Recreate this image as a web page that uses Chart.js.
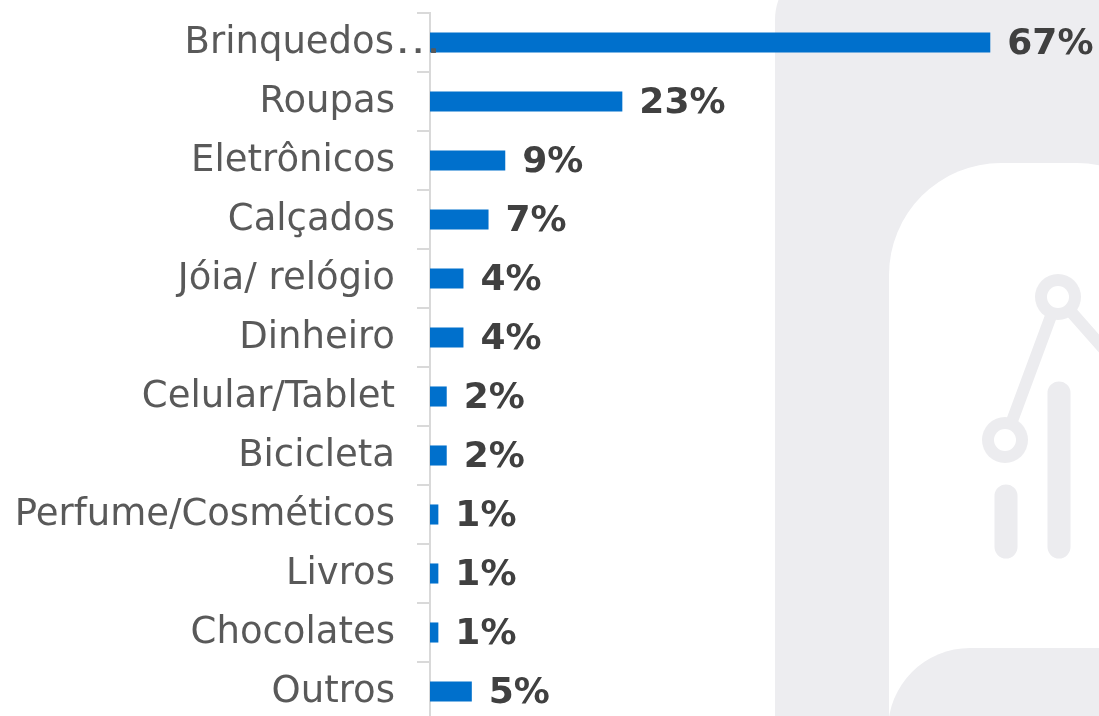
<!DOCTYPE html>
<html>
<head>
<meta charset="utf-8">
<script src="https://cdn.jsdelivr.net/npm/chart.js@4/dist/chart.umd.min.js"></script>
<style>
    html, body { margin: 0; padding: 0; background: #ffffff; overflow: hidden; }
    #wrap { position: absolute; left: 0; top: 0; width: 1099px; height: 730px; }
</style>
</head>
<body>
<div id="wrap"><canvas id="chart"></canvas></div>
<script>
// data
const categories = [
    'Brinquedos…', 'Roupas', 'Eletrônicos', 'Calçados', 'Jóia/ relógio', 'Dinheiro',
    'Celular/Tablet', 'Bicicleta', 'Perfume/Cosméticos', 'Livros', 'Chocolates', 'Outros'
];
const shares = [67, 23, 9, 7, 4, 4, 2, 2, 1, 1, 1, 5];

const BAR_COLOR = '#0070cc';
const LABEL_FONT = "'DejaVu Sans', 'Open Sans', sans-serif";

// grey decorative panel behind the chart (right side)
const backdrop = {
    id: 'backdrop',
    beforeDraw(chart) {
        const ctx = chart.ctx;
        const grey = '#ededf0';
        ctx.save();
        ctx.fillStyle = grey;
        ctx.beginPath();
        ctx.roundRect(775, -40, 400, 820, 60);
        ctx.fill();

        ctx.fillStyle = '#ffffff';
        ctx.beginPath();
        ctx.roundRect(889, 163, 300, 900, 112);
        ctx.fill();

        ctx.fillStyle = grey;
        ctx.beginPath();
        ctx.roundRect(888, 648, 300, 200, 82);
        ctx.fill();

        // chart icon
        ctx.strokeStyle = '#ececef';
        ctx.lineCap = 'round';
        ctx.lineWidth = 12;
        ctx.beginPath();
        ctx.moveTo(1058, 297);
        ctx.lineTo(1005, 440);
        ctx.moveTo(1058, 297);
        ctx.lineTo(1110, 356);
        ctx.stroke();
        [[1058, 297], [1005, 440]].forEach(([cx, cy]) => {
            ctx.fillStyle = '#ececef';
            ctx.beginPath();
            ctx.arc(cx, cy, 23, 0, Math.PI * 2);
            ctx.fill();
            ctx.fillStyle = '#ffffff';
            ctx.beginPath();
            ctx.arc(cx, cy, 11, 0, Math.PI * 2);
            ctx.fill();
        });
        ctx.lineWidth = 23;
        ctx.beginPath();
        ctx.moveTo(1006, 496);
        ctx.lineTo(1006, 547);
        ctx.moveTo(1059, 393);
        ctx.lineTo(1059, 547);
        ctx.stroke();
        ctx.restore();
    }
};

// category names + value labels
const labels = {
    id: 'labels',
    afterDatasetsDraw(chart) {
        const ctx = chart.ctx;
        const yScale = chart.scales.y;
        const bars = chart.getDatasetMeta(0).data;
        ctx.save();
        ctx.textBaseline = 'middle';

        ctx.font = '37px ' + LABEL_FONT;
        ctx.fillStyle = '#595959';
        categories.forEach((name, i) => {
            const y = yScale.getPixelForValue(i) + 1;
            if (name.endsWith('…')) {
                // truncated label: ellipsis hangs past the label column
                ctx.textAlign = 'right';
                ctx.fillText(name.slice(0, -1), 394, y);
                ctx.save();
                ctx.translate(395, y);
                ctx.scale(1.25, 1);
                ctx.textAlign = 'left';
                ctx.fillText('…', 0, 0);
                ctx.restore();
            } else {
                ctx.textAlign = 'right';
                ctx.fillText(name, 395, y);
            }
        });

        ctx.font = 'bold 36px ' + LABEL_FONT;
        ctx.fillStyle = '#404040';
        ctx.textAlign = 'left';
        bars.forEach((bar, i) => {
            ctx.fillText(shares[i] + '%', bar.x + 17, bar.y + 2);
        });
        ctx.restore();
    }
};

new Chart(document.getElementById('chart'), {
    type: 'bar',
    data: {
        labels: categories,
        datasets: [{
            data: shares,
            backgroundColor: BAR_COLOR,
            borderWidth: 0,
            barPercentage: 0.34,
            categoryPercentage: 1
        }]
    },
    options: {
        indexAxis: 'y',
        responsive: true,
        maintainAspectRatio: false,
        animation: false,
        events: [],
        layout: {
            padding: { top: 13, bottom: 9, left: 0, right: 0 }
        },
        plugins: {
            legend: { display: false },
            tooltip: { enabled: false }
        },
        scales: {
            x: {
                display: false,
                min: 0,
                max: 80
            },
            y: {
                afterFit(scale) { scale.width = 430; },
                border: { color: '#d9d9d9', width: 2 },
                grid: {
                    drawOnChartArea: false,
                    drawTicks: true,
                    tickLength: 13,
                    color: '#d9d9d9',
                    lineWidth: 2,
                    offset: true
                },
                ticks: { display: false }
            }
        }
    },
    plugins: [backdrop, labels]
});
</script>
</body>
</html>
